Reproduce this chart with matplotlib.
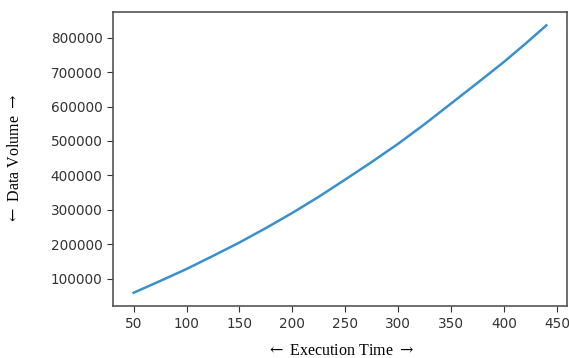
import matplotlib.pyplot as plt

plt.rcParams['font.family'] = 'DejaVu Sans'
plt.rcParams['mathtext.fontset'] = 'dejavuserif'

exec_time = [50, 75, 100, 125, 150, 175, 200, 225, 250, 275, 300, 325, 350, 375, 400, 420, 440]
data_volume = [59000, 93000, 128000, 166000, 205000, 247000, 291000, 338000, 388000,
               439000, 492000, 549000, 609000, 669000, 730000, 782000, 836000]

fig = plt.figure(figsize=(5.69, 3.58), dpi=100)
ax = fig.add_axes([0.1986, 0.145, 0.7979, 0.8215])

ax.plot(exec_time, data_volume, color='#3a90cb', linewidth=1.8)

ax.set_xticks([50, 100, 150, 200, 250, 300, 350, 400, 450])
ax.set_yticks([100000, 200000, 300000, 400000, 500000, 600000, 700000, 800000])
ax.tick_params(labelsize=9.8, colors='#333333', length=4)
for s in ax.spines.values():
    s.set_color('#555555')
    s.set_linewidth(1.2)

ax.set_xlabel(r'$\leftarrow$ Execution Time $\rightarrow$', fontfamily='Liberation Serif', fontsize=11.5)
ax.set_ylabel(r'$\leftarrow$ Data Volume $\rightarrow$', fontfamily='Liberation Serif', fontsize=11.5)
ax.xaxis.set_label_coords(0.5, -0.125)
ax.yaxis.set_label_coords(-0.198, 0.5)

fig.savefig('out.png', dpi=100)
